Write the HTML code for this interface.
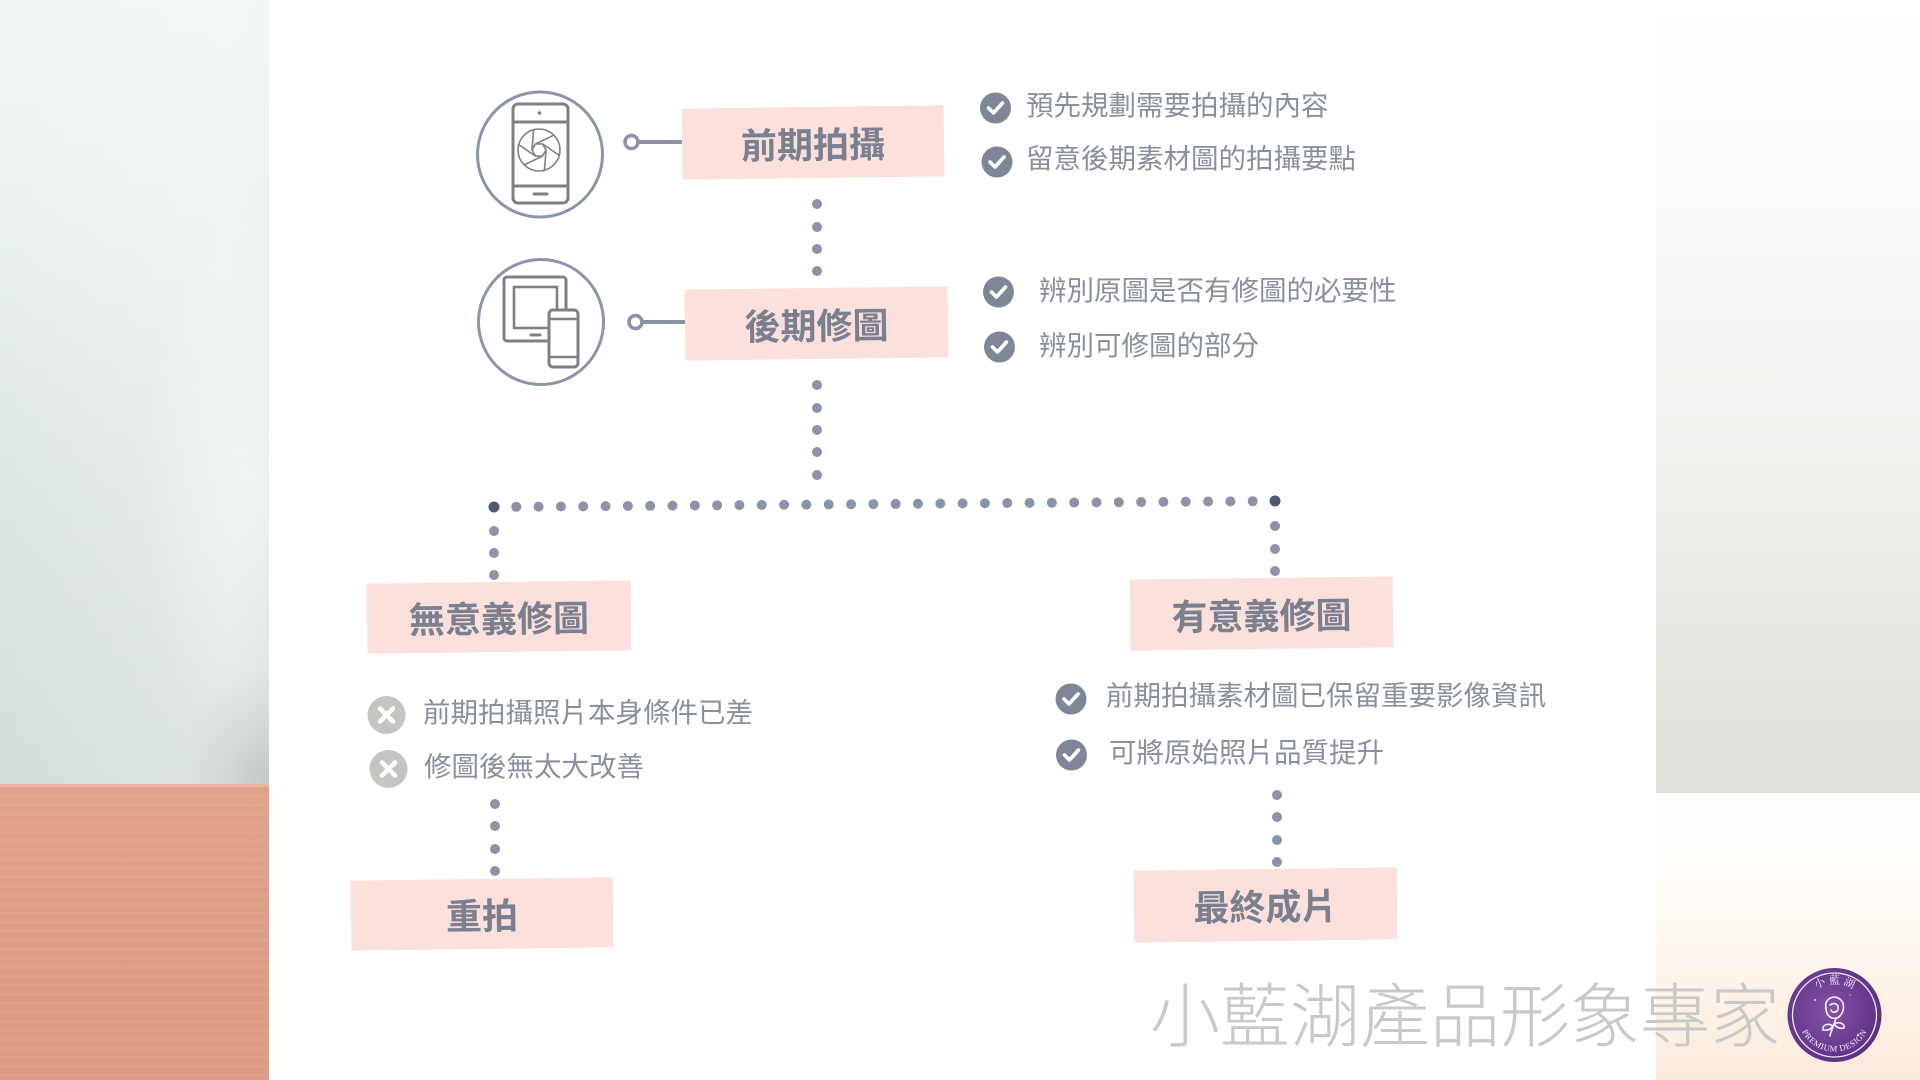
<!DOCTYPE html>
<html>
<head>
<meta charset="utf-8">
<style>
html,body{margin:0;padding:0;}
body{width:1920px;height:1080px;position:relative;overflow:hidden;background:#ffffff;font-family:"Liberation Sans","Noto Sans CJK TC",sans-serif;}
.abs{position:absolute;}
#leftbg{left:0;top:0;width:269px;height:786px;
 background:
  radial-gradient(ellipse 110px 280px at 250px 480px, rgba(243,250,247,0.6), rgba(243,250,247,0) 100%),
  radial-gradient(ellipse 90px 120px at 269px 786px, rgba(175,182,178,0.55), rgba(175,182,178,0) 100%),
  linear-gradient(to right, rgba(255,255,255,0) 0%, rgba(255,255,255,0.25) 85%, rgba(255,255,255,0.1) 100%),
  linear-gradient(to bottom,#f1f6f4 0%,#e9f0ee 30%,#dfe7e6 60%,#d4dddc 100%);}
#wood{left:0;top:786px;width:269px;height:294px;
 background:
  repeating-linear-gradient(to bottom, rgba(255,235,220,0.05) 0px, rgba(255,235,220,0.05) 2px, rgba(200,120,95,0.03) 3px, rgba(200,120,95,0.03) 6px, rgba(255,235,220,0.0) 9px),
  linear-gradient(to bottom,#e0a38a 0%,#dd9e85 50%,#dc9c83 100%);}
#woodedge{left:0;top:784px;width:269px;height:3px;background:#e7b5a1;}
#rightbg{left:1656px;top:0;width:264px;height:793px;
 background:linear-gradient(to bottom,#ffffff 0%,#fbfbfa 25%,#efefec 60%,#e1dfd9 100%);}
#rightbg2{left:1656px;top:793px;width:264px;height:287px;
 background:linear-gradient(to bottom,#fffefd 0%,#fffcf8 35%,#fcf1e6 75%,#faeadc 100%);}
.box{position:absolute;background:#fce0db;display:flex;align-items:center;justify-content:center;
 font-family:"Liberation Sans","Noto Sans CJK TC",sans-serif;font-weight:700;font-size:36px;color:#7a8090;transform:rotate(-0.7deg);}
.li{position:absolute;font-family:"Liberation Sans","Noto Sans CJK TC",sans-serif;font-size:27.5px;line-height:40px;color:#898f9c;white-space:nowrap;}
#wm{position:absolute;left:1150px;top:977px;font-family:"Liberation Sans","Noto Sans CJK TC",sans-serif;font-weight:300;font-size:70px;line-height:80px;color:#c9c9c9;white-space:nowrap;}
</style>
</head>
<body>
<div id="leftbg" class="abs"></div>
<div id="wood" class="abs"></div>
<div id="woodedge" class="abs"></div>
<div id="rightbg" class="abs"></div>
<div id="rightbg2" class="abs"></div>

<svg class="abs" style="left:0;top:0" width="1920" height="1080" viewBox="0 0 1920 1080">
 <circle cx="540" cy="154.5" r="62.5" fill="none" stroke="#8b95a7" stroke-width="3"/>
 <circle cx="541" cy="322" r="62.5" fill="none" stroke="#8b95a7" stroke-width="3"/>
 <g fill="none" stroke="#7e8085" stroke-width="3" stroke-linecap="round">
  <rect x="513" y="104" width="55" height="99" rx="5"/>
  <line x1="514" y1="122" x2="567" y2="122"/>
  <line x1="514" y1="186" x2="567" y2="186"/>
  <line x1="534" y1="194" x2="547" y2="194"/>
 </g>
 <circle cx="539.5" cy="113" r="1.8" fill="#7e8085"/>
 <g fill="none" stroke="#7e8085" stroke-width="1.6">
  <circle cx="539" cy="150" r="21"/>
  <polygon points="546,150 542.5,156.1 535.5,156.1 532,150 535.5,143.9 542.5,143.9"/>
  <line x1="546" y1="150" x2="544.4" y2="170.3"/>
  <line x1="542.5" y1="156.1" x2="524.2" y2="164.8"/>
  <line x1="535.5" y1="156.1" x2="518.7" y2="144.6"/>
  <line x1="532" y1="150" x2="533.6" y2="129.7"/>
  <line x1="535.5" y1="143.9" x2="553.8" y2="135.2"/>
  <line x1="542.5" y1="143.9" x2="559.3" y2="155.4"/>
 </g>
 <g fill="none" stroke="#7e8085" stroke-width="3" stroke-linecap="round">
  <rect x="504" y="277" width="62" height="64" rx="3"/>
  <rect x="514" y="287" width="43" height="41" stroke-width="2.6"/>
  <line x1="531" y1="335" x2="540" y2="335"/>
  <rect x="549" y="310" width="29" height="57" rx="4" fill="#ffffff"/>
  <line x1="550" y1="319" x2="577" y2="319" stroke-width="2.4"/>
  <line x1="550" y1="357" x2="577" y2="357" stroke-width="2.4"/>
 </g>
 <g stroke="#8a94a6" stroke-width="3.5" fill="#ffffff">
  <line x1="638" y1="142" x2="683" y2="142" stroke-width="4"/>
  <circle cx="631.5" cy="142" r="6.5"/>
  <line x1="642" y1="322" x2="686" y2="322" stroke-width="4"/>
  <circle cx="635.5" cy="322" r="6.5"/>
 </g>
 <g fill="#8a94a6">
  <circle cx="817" cy="204" r="5"/><circle cx="817" cy="227" r="5"/><circle cx="817" cy="249" r="5"/><circle cx="817" cy="271" r="5"/>
  <circle cx="817" cy="385" r="5"/><circle cx="817" cy="408" r="5"/><circle cx="817" cy="430" r="5"/><circle cx="817" cy="452" r="5"/><circle cx="817" cy="475" r="5"/>
  <circle cx="494" cy="531" r="5"/><circle cx="494" cy="553" r="5"/><circle cx="494" cy="575" r="5"/>
  <circle cx="1275" cy="526" r="5"/><circle cx="1275" cy="549" r="5"/><circle cx="1275" cy="571" r="5"/>
  <circle cx="495" cy="804" r="5"/><circle cx="495" cy="826" r="5"/><circle cx="495" cy="849" r="5"/><circle cx="495" cy="871" r="5"/>
  <circle cx="1277" cy="795" r="5"/><circle cx="1277" cy="817" r="5"/><circle cx="1277" cy="840" r="5"/><circle cx="1277" cy="862" r="5"/>
 </g>
 <line x1="494" y1="507" x2="1275" y2="501" stroke="#8a94a6" stroke-width="10" stroke-linecap="round" stroke-dasharray="0 22.3149"/>
 <circle cx="494" cy="507" r="5.5" fill="#4e5a6e"/>
 <circle cx="1275" cy="501" r="5.5" fill="#4e5a6e"/>
 <g>
  <circle cx="995.5" cy="108" r="15.5" fill="#7e8797"/>
  <circle cx="997" cy="162" r="15.5" fill="#7e8797"/>
  <circle cx="998.5" cy="292" r="15.5" fill="#7e8797"/>
  <circle cx="999.5" cy="347" r="15.5" fill="#7e8797"/>
  <circle cx="1071" cy="699" r="15.5" fill="#7e8797"/>
  <circle cx="1071.5" cy="755" r="15.5" fill="#7e8797"/>
 </g>
 <g fill="none" stroke="#ffffff" stroke-width="3.6" stroke-linecap="round" stroke-linejoin="round">
  <polyline points="988.5,108 993.5,113 1002.5,103"/>
  <polyline points="990,162 995,167 1004,157"/>
  <polyline points="991.5,292 996.5,297 1005.5,287"/>
  <polyline points="992.5,347 997.5,352 1006.5,342"/>
  <polyline points="1064,699 1069,704 1078,694"/>
  <polyline points="1064.5,755 1069.5,760 1078.5,750"/>
 </g>
 <circle cx="386.5" cy="715" r="19" fill="#c4c4c1"/>
 <circle cx="388.5" cy="769" r="19" fill="#c4c4c1"/>
 <g stroke="#ffffff" stroke-width="4.5" stroke-linecap="round">
  <line x1="380" y1="708.5" x2="393" y2="721.5"/><line x1="393" y1="708.5" x2="380" y2="721.5"/>
  <line x1="382" y1="762.5" x2="395" y2="775.5"/><line x1="395" y1="762.5" x2="382" y2="775.5"/>
 </g>
 <defs>
  <radialGradient id="lg" cx="0.45" cy="0.45" r="0.6">
   <stop offset="0" stop-color="#8553a6"/>
   <stop offset="0.6" stop-color="#6d3d92"/>
   <stop offset="1" stop-color="#5a2d80"/>
  </radialGradient>
  <path id="arcBottom" d="M1798,1015 A36.5,36.5 0 0,0 1871,1015"/>
  <path id="arcTop" d="M1803,1015 A31.5,31.5 0 0,1 1866,1015"/>
 </defs>
 <circle cx="1834.5" cy="1015" r="47" fill="url(#lg)"/>
 <circle cx="1834.5" cy="1015" r="42" fill="none" stroke="#f1e8f6" stroke-width="1.3"/>
 <circle cx="1815" cy="1000" r="1" fill="#fff" opacity="0.7"/>
 <circle cx="1858" cy="1035" r="1.2" fill="#fff" opacity="0.7"/>
 <circle cx="1850" cy="995" r="0.8" fill="#fff" opacity="0.6"/>
 <text font-family="Liberation Serif, 'Noto Serif CJK SC', serif" font-size="11" fill="#f5eefa"><textPath href="#arcTop" startOffset="50%" text-anchor="middle">小 藍 湖</textPath></text>
 <text font-family="Liberation Serif, serif" font-size="8.5" fill="#f5eefa" letter-spacing="0.5"><textPath href="#arcBottom" startOffset="50%" text-anchor="middle">PREMIUM DESIGN</textPath></text>
 <g fill="none" stroke="#f6f0fa" stroke-width="1.6" stroke-linecap="round">
  <path d="M1826,1008 C1824,1000 1832,995 1838,998 C1845,1001 1845,1010 1840,1016 C1835,1021 1826,1018 1826,1008 Z"/>
  <path d="M1830,1005 C1834,1002 1839,1004 1838,1009 C1837,1013 1832,1013 1831,1010"/>
  <path d="M1836,1018 C1834,1026 1831,1030 1830,1036"/>
  <path d="M1833,1026 C1827,1022 1822,1026 1823,1030 C1828,1031 1831,1029 1833,1026"/>
  <path d="M1834,1024 C1840,1021 1845,1024 1844,1028 C1839,1029 1836,1027 1834,1024"/>
 </g>
</svg>

<div class="box" style="left:682px;top:107px;width:262px;height:71px;">前期拍攝</div>
<div class="box" style="left:685px;top:288px;width:263px;height:71px;">後期修圖</div>
<div class="box" style="left:367px;top:582px;width:264px;height:70px;">無意義修圖</div>
<div class="box" style="left:1130px;top:578px;width:263px;height:71px;">有意義修圖</div>
<div class="box" style="left:351px;top:879px;width:262px;height:70px;">重拍</div>
<div class="box" style="left:1134px;top:869px;width:263px;height:72px;">最終成片</div>

<div class="li" style="left:1026px;top:86px;">預先規劃需要拍攝的內容</div>
<div class="li" style="left:1026px;top:139px;">留意後期素材圖的拍攝要點</div>
<div class="li" style="left:1039px;top:271px;">辨別原圖是否有修圖的必要性</div>
<div class="li" style="left:1039px;top:326px;">辨別可修圖的部分</div>
<div class="li" style="left:423px;top:693px;">前期拍攝照片本身條件已差</div>
<div class="li" style="left:424px;top:747px;">修圖後無太大改善</div>
<div class="li" style="left:1106px;top:676px;">前期拍攝素材圖已保留重要影像資訊</div>
<div class="li" style="left:1109px;top:733px;">可將原始照片品質提升</div>

<div id="wm">小藍湖產品形象專家</div>
</body>
</html>
